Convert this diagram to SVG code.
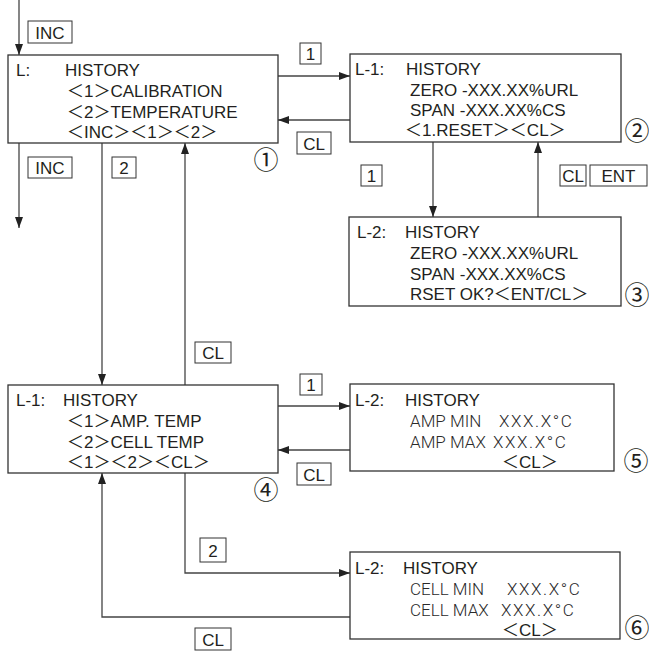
<svg xmlns="http://www.w3.org/2000/svg" width="649" height="652" viewBox="0 0 649 652">
<style>
.bg{fill:#fff}
.box{fill:#fff;stroke:#333;stroke-width:1.3}
.lbl{fill:#fff;stroke:#333;stroke-width:1}
.t{font-family:"Liberation Sans","Noto Sans CJK JP",sans-serif;font-size:17px;fill:#231f20}
.thin{font-family:Roboto,"Liberation Sans","Noto Sans CJK JP",sans-serif;font-weight:300;font-size:17px;fill:#2a2a2a}
.wx{letter-spacing:1.6px}
.c{text-anchor:middle}
.num{font-family:"Noto Sans CJK JP",sans-serif;font-size:25px;fill:#231f20;text-anchor:middle}
.ln{fill:none;stroke:#444;stroke-width:1.3}
</style>
<defs>
<marker id="ah" markerUnits="userSpaceOnUse" markerWidth="11" markerHeight="8" refX="11" refY="4" orient="auto">
<path d="M0,0 L11,4 L0,8 z" fill="#222"/>
</marker>
</defs>
<rect class="bg" x="0" y="0" width="649" height="652"/>

<g id="connectors">
<path class="ln" d="M19,0 V55" marker-end="url(#ah)"/>
<path class="ln" d="M19,143 V228" marker-end="url(#ah)"/>
<path class="ln" d="M102,143 V385" marker-end="url(#ah)"/>
<path class="ln" d="M185,385 V143" marker-end="url(#ah)"/>
<path class="ln" d="M278,76 H350" marker-end="url(#ah)"/>
<path class="ln" d="M350,120 H278" marker-end="url(#ah)"/>
<path class="ln" d="M433,142 V217" marker-end="url(#ah)"/>
<path class="ln" d="M538,217 V142" marker-end="url(#ah)"/>
<path class="ln" d="M278,406 H350" marker-end="url(#ah)"/>
<path class="ln" d="M350,450 H278" marker-end="url(#ah)"/>
<path class="ln" d="M185,473 V573 H350" marker-end="url(#ah)"/>
<path class="ln" d="M350,617 H102 V473" marker-end="url(#ah)"/>

<g id="labels">
<rect class="lbl" x="28" y="21" width="44" height="22"/><text class="t c" x="50" y="38.5">INC</text>
<rect class="lbl" x="28" y="157" width="44" height="21"/><text class="t c" x="50" y="174">INC</text>
<rect class="lbl" x="112" y="157" width="24" height="21"/><text class="t c" x="124" y="174">2</text>
<rect class="lbl" x="300" y="43" width="21" height="21"/><text class="t c" x="310.5" y="60">1</text>
<rect class="lbl" x="297" y="132" width="34" height="22"/><text class="t c" x="314" y="149.5">CL</text>
<rect class="lbl" x="361" y="165" width="21" height="21"/><text class="t c" x="371.5" y="182">1</text>
<rect class="lbl" x="560" y="165" width="26" height="21"/><text class="t c" x="573" y="182">CL</text>
<rect class="lbl" x="590" y="165" width="57" height="21"/><text class="t c" x="618.5" y="182">ENT</text>
<rect class="lbl" x="195" y="342" width="36" height="21"/><text class="t c" x="213" y="359">CL</text>
<rect class="lbl" x="300" y="374" width="22" height="21"/><text class="t c" x="311" y="391">1</text>
<rect class="lbl" x="297" y="463" width="34" height="22"/><text class="t c" x="314" y="480.5">CL</text>
<rect class="lbl" x="200" y="538" width="26" height="24"/><text class="t c" x="213" y="556.5">2</text>
<rect class="lbl" x="195" y="628" width="36" height="22"/><text class="t c" x="213" y="645.5">CL</text>
</g>
</g>

<g id="n1">
<rect class="box" x="8" y="55" width="270" height="88"/>
<text class="t" x="16" y="76">L:</text>
<text class="t" x="65" y="76">HISTORY</text>
<text class="t" x="67" y="97">＜1＞CALIBRATION</text>
<text class="t" x="67" y="118">＜2＞TEMPERATURE</text>
<text class="t" x="67" y="138">＜INC＞＜1＞＜2＞</text>
<text class="num" x="266" y="168.5">①</text>
</g>

<g id="n2">
<rect class="box" x="350" y="54" width="271" height="88"/>
<text class="t" x="355" y="75">L-1:</text>
<text class="t" x="406" y="75">HISTORY</text>
<text class="t" x="410" y="96">ZERO -XXX.XX%URL</text>
<text class="t" x="410" y="116">SPAN -XXX.XX%CS</text>
<text class="t" x="405" y="136">＜1.RESET＞＜CL＞</text>
<text class="num" x="637" y="139.8">②</text>
</g>

<g id="n3">
<rect class="box" x="349" y="217" width="272" height="89"/>
<text class="t" x="357" y="238">L-2:</text>
<text class="t" x="405" y="238">HISTORY</text>
<text class="t" x="410" y="259">ZERO -XXX.XX%URL</text>
<text class="t" x="410" y="280">SPAN -XXX.XX%CS</text>
<text class="t" x="410" y="300">RSET OK?＜ENT/CL＞</text>
<text class="num" x="637" y="303.8">③</text>
</g>

<g id="n4">
<rect class="box" x="8" y="385" width="270" height="88"/>
<text class="t" x="16" y="406">L-1:</text>
<text class="t" x="63" y="406">HISTORY</text>
<text class="t" x="67" y="427">＜1＞AMP.  TEMP</text>
<text class="t" x="67" y="448">＜2＞CELL  TEMP</text>
<text class="t" x="67" y="468">＜1＞＜2＞＜CL＞</text>
<text class="num" x="266" y="498.8">④</text>
</g>

<g id="n5">
<rect class="box" x="350" y="384" width="264" height="87"/>
<text class="t" x="355" y="406">L-2:</text>
<text class="t" x="405" y="406">HISTORY</text>
<text class="thin" x="410" y="427">AMP MIN<tspan class="wx" x="499">XXX.X°C</tspan></text>
<text class="thin" x="410" y="448">AMP MAX<tspan class="wx" x="493">XXX.X°C</tspan></text>
<text class="t" x="502" y="468">＜CL＞</text>
<text class="num" x="636" y="469.8">⑤</text>
</g>

<g id="n6">
<rect class="box" x="350" y="552" width="270" height="87"/>
<text class="t" x="355" y="574">L-2:</text>
<text class="t" x="403" y="574">HISTORY</text>
<text class="thin" x="410" y="595">CELL MIN<tspan class="wx" x="507">XXX.X°C</tspan></text>
<text class="thin" x="410" y="616">CELL MAX<tspan class="wx" x="501">XXX.X°C</tspan></text>
<text class="t" x="502" y="636">＜CL＞</text>
<text class="num" x="637" y="636.8">⑥</text>
</g>
</svg>
